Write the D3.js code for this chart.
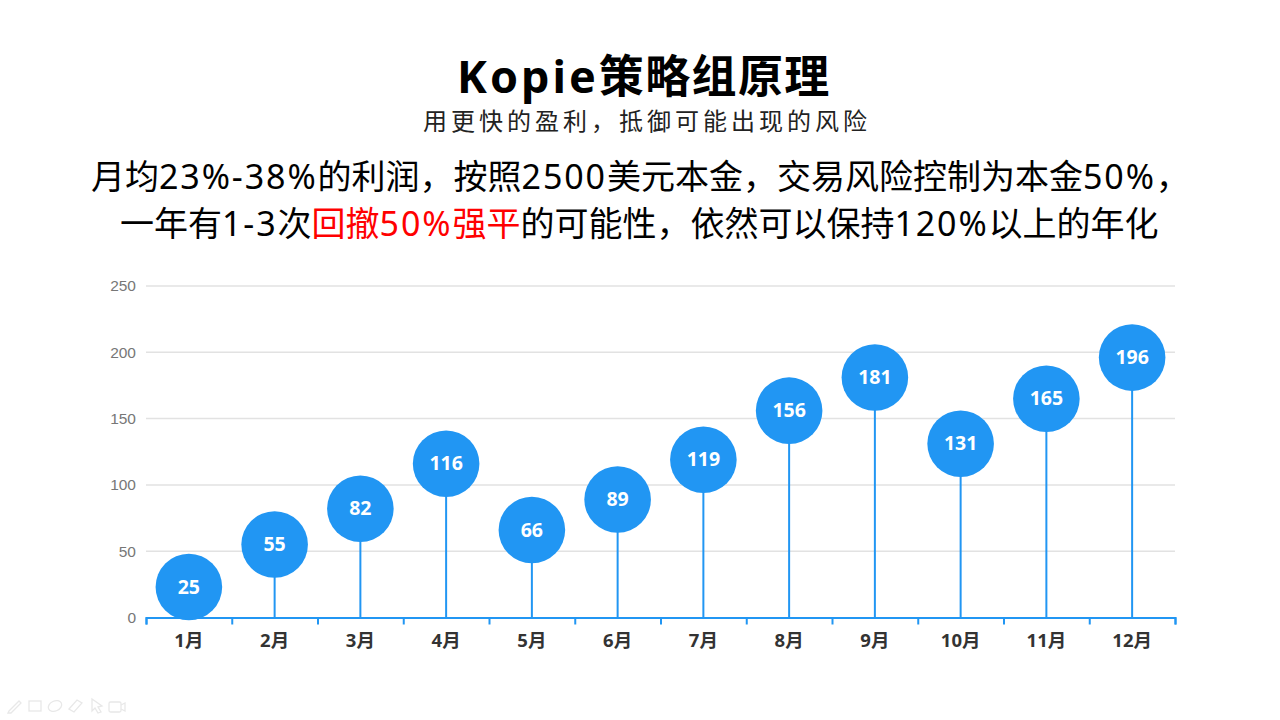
<!DOCTYPE html>
<html>
<head>
<meta charset="utf-8">
<script src="https://cdn.jsdelivr.net/npm/d3@7"></script>
<style>
  html, body { margin: 0; padding: 0; background: #fff; }
  svg { display: block; }
  text { font-family: "Noto Sans", "Noto Sans CJK SC", sans-serif; }
</style>
</head>
<body>
<svg id="chart" width="1280" height="720"></svg>
<script>
  const months = ['1月', '2月', '3月', '4月', '5月', '6月', '7月', '8月', '9月', '10月', '11月', '12月'];
  const valueLabels = [25, 55, 82, 116, 66, 89, 119, 156, 181, 131, 165, 196];
  // the first pin sits a bit lower in the picture than its label says
  const pinValues = [23, 55, 82, 116, 66, 89, 119, 156, 181, 131, 165, 196];
  const yTicks = [0, 50, 100, 150, 200, 250];

  const titleText = 'Kopie策略组原理';
  const subtitleText = '用更快的盈利，抵御可能出现的风险';
  const line1Text = '月均23%-38%的利润，按照2500美元本金，交易风险控制为本金50%，';
  const line2Parts = [
    { text: '一年有1-3次', color: '#000' },
    { text: '回撤50%强平', color: '#f00' },
    { text: '的可能性，依然可以保持120%以上的年化', color: '#000' }
  ];

  const blue = '#2196f3';
  const svg = d3.select('#chart');

  const plotLeft = 146, plotRight = 1175, plotTop = 286, plotBottom = 617.5;

  const x = d3.scaleBand().domain(months).range([plotLeft, plotRight]);
  const xEdges = d3.scaleLinear().domain([0, months.length]).range([plotLeft, plotRight]);
  const y = d3.scaleLinear().domain([0, 250]).range([plotBottom, plotTop]);

  // latin runs are spaced wider than the chinese ones in the picture
  const addRuns = (textSel, str, color, latinSpacing, cjkSpacing) => {
    str.match(/[\x00-\x7f]+|[^\x00-\x7f]+/g).forEach(run => {
      textSel.append('tspan')
        .attr('fill', color)
        .attr('letter-spacing', /^[\x00-\x7f]/.test(run) ? latinSpacing : cjkSpacing)
        .text(run);
    });
  };

  // headings
  const title = svg.append('text')
    .attr('x', 457).attr('y', 93)
    .attr('font-size', 45).attr('font-weight', 700);
  addRuns(title, titleText, '#000', 3, 1.4);

  const subtitle = svg.append('text')
    .attr('x', 423).attr('y', 130)
    .attr('font-size', 24);
  addRuns(subtitle, subtitleText, '#222', 0, 4);

  const line1 = svg.append('text')
    .attr('x', 91).attr('y', 189)
    .attr('font-size', 34);
  addRuns(line1, line1Text, '#000', 1.9, 0);

  const line2 = svg.append('text')
    .attr('x', 120).attr('y', 236)
    .attr('font-size', 34);
  line2Parts.forEach(p => addRuns(line2, p.text, p.color, 1.9, 0));

  // grid and y axis
  const yAxis = svg.append('g')
    .attr('transform', `translate(${plotLeft},0)`)
    .call(d3.axisLeft(y).tickValues(yTicks).tickSize(0).tickPadding(10));
  yAxis.select('.domain').remove();
  yAxis.selectAll('text')
    .style('font-family', '"Liberation Sans", Arial, sans-serif')
    .attr('font-size', 15.5)
    .attr('fill', '#777');

  svg.append('g')
    .selectAll('line')
    .data(yTicks.filter(d => d > 0))
    .join('line')
    .attr('x1', plotLeft).attr('x2', plotRight)
    .attr('y1', d => y(d)).attr('y2', d => y(d))
    .attr('stroke', '#e2e2e2')
    .attr('stroke-width', 1.5);

  // pins
  const pins = svg.append('g')
    .selectAll('g')
    .data(months.map((m, i) => ({ month: m, value: pinValues[i], label: valueLabels[i] })))
    .join('g')
    .attr('transform', d => `translate(${x(d.month) + x.bandwidth() / 2},0)`);

  pins.append('line')
    .attr('y1', d => y(d.value)).attr('y2', plotBottom)
    .attr('stroke', blue)
    .attr('stroke-width', 2);

  pins.append('circle')
    .attr('cy', d => y(d.value))
    .attr('r', 33.3)
    .attr('fill', blue);

  pins.append('text')
    .attr('y', d => y(d.value))
    .attr('dy', '0.34em')
    .attr('text-anchor', 'middle')
    .attr('font-size', 19.5).attr('font-weight', 700)
    .attr('fill', '#fff')
    .text(d => d.label);

  // x axis: ticks on the band edges, labels in the band middle
  const xTicks = svg.append('g')
    .attr('transform', `translate(0,${plotBottom})`)
    .call(d3.axisBottom(xEdges).tickValues(d3.range(months.length + 1)).tickSize(7).tickFormat(''));
  xTicks.select('.domain').attr('stroke', blue).attr('stroke-width', 2);
  xTicks.selectAll('.tick line').attr('stroke', blue).attr('stroke-width', 2);

  const xLabels = svg.append('g')
    .attr('transform', `translate(0,${plotBottom})`)
    .call(d3.axisBottom(x).tickSize(0).tickPadding(16));
  xLabels.select('.domain').remove();
  xLabels.selectAll('text')
    .attr('font-size', 18.5).attr('font-weight', 700)
    .attr('fill', '#333');

  // faint slideshow toolbar, bottom left
  const toolbar = svg.append('g')
    .attr('fill', 'none')
    .attr('stroke', '#e8e8e8')
    .attr('stroke-width', 1.3);
  toolbar.append('path').attr('d', 'M9 711L19 701L21 703L11 713L8 713Z');
  toolbar.append('rect').attr('x', 29).attr('y', 701).attr('width', 12).attr('height', 10);
  toolbar.append('ellipse').attr('cx', 55).attr('cy', 706).attr('rx', 7).attr('ry', 5).attr('transform', 'rotate(-25 55 706)');
  toolbar.append('path').attr('d', 'M69 709L77 700L82 703L74 712Z');
  toolbar.append('path').attr('d', 'M92 699L92 711L95 708L98 713L101 712L98 707L102 706Z');
  toolbar.append('rect').attr('x', 109).attr('y', 702).attr('width', 12).attr('height', 10).attr('rx', 1.5);
  toolbar.append('path').attr('d', 'M121 705L125 703L125 711L121 709');
</script>
</body>
</html>
